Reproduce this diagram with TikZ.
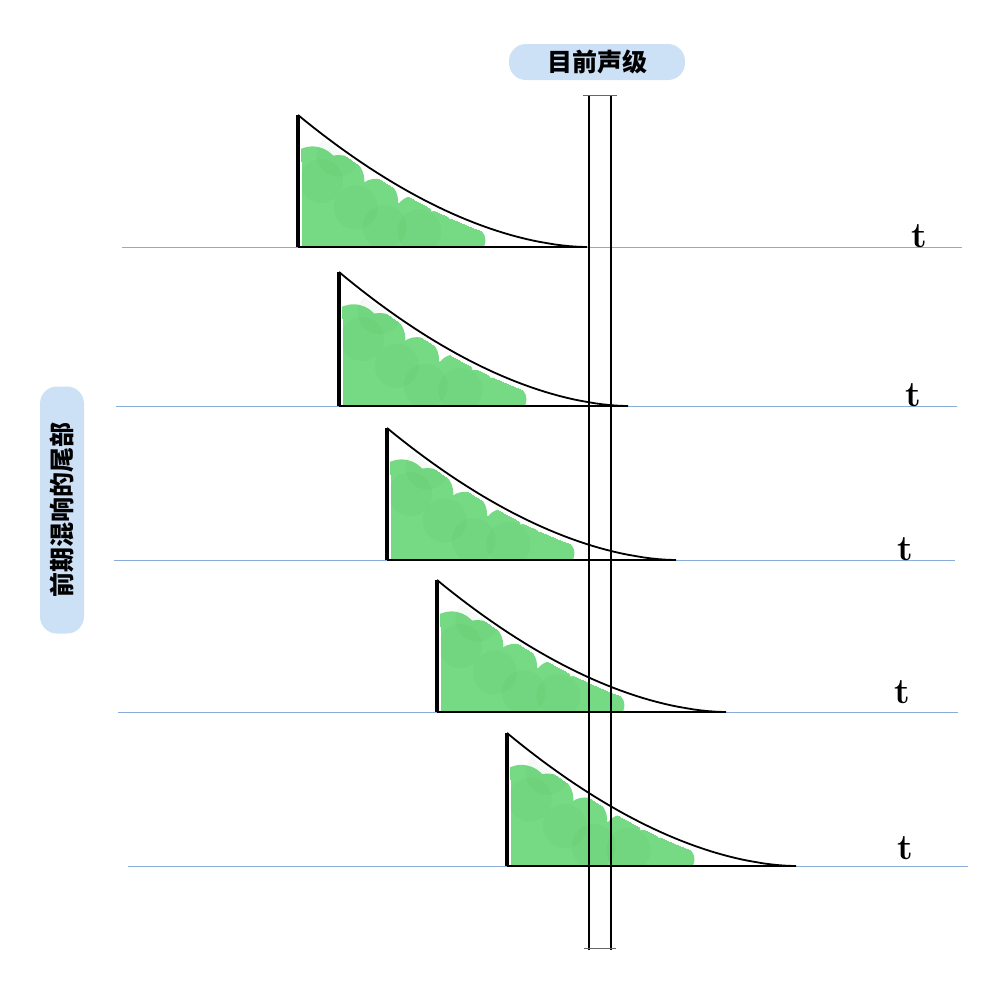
\documentclass[tikz,border=0pt]{standalone}
\usepackage{fontspec}
\newfontfamily\cjk{Noto Sans CJK SC}
\usetikzlibrary{calc}
\definecolor{axisc}{HTML}{8AACD9}
\definecolor{hlc}{HTML}{CCE0F6}
\definecolor{greenc}{HTML}{5ED36F}
\tikzset{
  axis/.style={axisc,line width=0.8pt},
  rail/.style={black,line width=1.8pt},
  railcap/.style={black!60,line width=0.8pt},
  edge/.style={black,line width=3.2pt},
  decay/.style={black,line width=1.8pt},
  blob/.style={fill=greenc},
  spot/.style={fill=green!45!black,opacity=0.035},
  hl/.style={fill=hlc,rounded corners=17pt,inner ysep=4pt,minimum height=36pt,font=\cjk\bfseries\fontsize{25}{25}\selectfont},
  tlab/.style={font=\bfseries\fontsize{36}{36}\selectfont}
}

\begin{document}
\begin{tikzpicture}[x=1pt,y=-1pt]
\useasboundingbox (0,0) rectangle (1005,991);
% time axes
\foreach \yb/\xl/\xr/\tx/\ty [count=\i] in {247/122/962/919/236,406/116/957/913/395,560/114/955/905/549,712/118/958/902/692,866/128/968/905/848}{
  \coordinate (al\i) at (\xl,\yb);
  \coordinate (ar\i) at (\xr,\yb);
  \draw[axis] (al\i) -- (ar\i);
  \node[tlab] (t\i) at (\tx,\ty) {t};
}
% decay curves, green energy
\foreach \xa/\ya/\yb [count=\i] in {298/115/247,339/272/406,387/428/560,437/580/712,507/733/866}{
  \pgfmathsetmacro{\h}{\yb-\ya}
  \coordinate (top\i) at (\xa,\ya);
  \coordinate (foot\i) at (\xa,\yb);
  \coordinate (tail\i) at (\xa+289,\yb);
  \begin{scope}
    \clip (\xa+4,\yb-2) -- plot[domain=0.01:0.99,samples=40] ({\xa+289*\x},{\yb+6-(\h+2)*(1-\x)^1.8}) -- (tail\i) -- cycle;
    \begin{scope}[transparency group,opacity=0.85]
      \fill[blob] (\xa,\yb) rectangle (\xa+150,\yb-30);
      \foreach \s/\v/\r in {0.05/0.55/28,0.05/0.2/28,0.14/0.5/26,0.2/0.25/28,0.27/0.35/22,0.33/0.15/25,0.4/0.25/18,0.47/0.12/20,0.55/0.1/16,0.6/0.05/14}
        \fill[blob] (\xa+289*\s,\yb-\h*\v) circle (\r);
    \end{scope}
    \foreach \s/\v in {0.08/0.5,0.2/0.3,0.3/0.15,0.14/0.7,0.42/0.12}
      \fill[spot] (\xa+289*\s,\yb-\h*\v) circle (22);
  \end{scope}
  \draw[decay] (top\i) -- plot[domain=0:0.99,samples=40] ({\xa+289*\x},{\yb-\h*(1-\x)^1.8}) -- (tail\i);
  \draw[decay,line width=1.5pt] (foot\i) -- (tail\i);
  \draw[edge] (top\i) -- (foot\i);
}
% current level window
\coordinate (ra) at (589,95);
\coordinate (rb) at (589,950);
\coordinate (rc) at (611,95);
\coordinate (rd) at (611,950);
\draw[rail] (ra) -- (rb);
\draw[rail] (rc) -- (rd);
\draw[railcap] ($(ra)+(-6,0)$) -- ($(rc)+(6,0)$);
\draw[railcap] ($(rb)+(-5,-2)$) -- ($(rd)+(5,-2)$);
% labels
\node[hl,inner xsep=38pt] (cur) at (597,62) {目前声级};
\node[hl,inner xsep=36pt,minimum height=44pt,rotate=90] (early) at (62,510) {前期混响的尾部};
\end{tikzpicture}
\end{document}
